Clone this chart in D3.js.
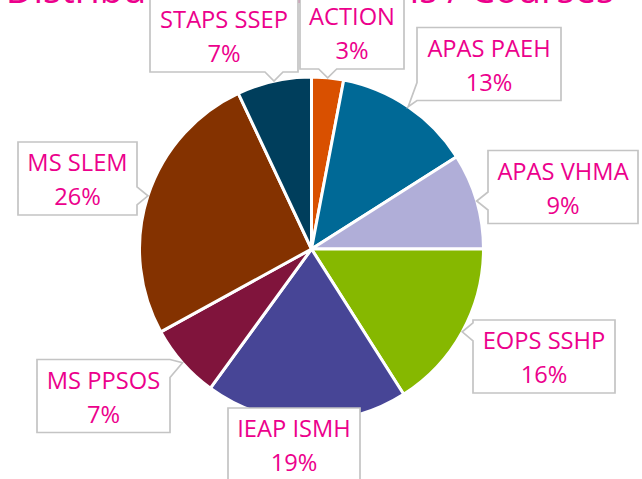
<!DOCTYPE html>
<html>
<head>
<meta charset="utf-8">
<script src="https://cdn.jsdelivr.net/npm/d3@7"></script>
<style>
  html, body { margin: 0; padding: 0; background: #fff; }
  svg { display: block; }
</style>
</head>
<body>
<svg id="chart" width="642" height="479"></svg>
<script>
// ---- data ----
const title = "Distribution of Mentions / Courses";
const categories = ["ACTION", "APAS PAEH", "APAS VHMA", "EOPS SSHP", "IEAP ISMH", "MS PPSOS", "MS SLEM", "STAPS SSEP"];
const values = [3, 13, 9, 16, 19, 7, 26, 7];
const colors = ["#D95000", "#006996", "#B0AED8", "#86B800", "#474596", "#80143C", "#843200", "#003E5C"];

// ---- layout (label box centers and widths) ----
const boxCenters = [[352, 32.5], [489, 64], [563, 187], [544, 356.5], [294, 444.5], [103.5, 396], [77.5, 178.5], [224, 35.5]];
const boxWidths = [104, 144, 150, 142, 132, 133, 119, 148];
const boxH = 73;

const svg = d3.select("#chart");
const cx = 311.5, cy = 249, r = 172;
const pink = "#EC008C";

const data = categories.map((c, i) => ({ name: c, value: values[i], color: colors[i], i }));
const total = d3.sum(values);

const pie = d3.pie().sort(null).value(d => d.value);
const arcs = pie(data);
const arc = d3.arc().innerRadius(0).outerRadius(r);
const edgeArc = d3.arc().innerRadius(r).outerRadius(r);

const g = svg.append("g").attr("transform", `translate(${cx},${cy})`);
g.selectAll("path.slice").data(arcs).join("path")
  .attr("class", "slice")
  .attr("d", arc)
  .attr("fill", d => d.data.color)
  .attr("stroke", "#fff")
  .attr("stroke-width", 3)
  .attr("stroke-linejoin", "round");

// title (partially cut off at top, as in reference)
svg.append("text")
  .attr("x", 310).attr("y", 3)
  .attr("text-anchor", "middle")
  .attr("font-family", "'Open Sans', sans-serif")
  .attr("font-size", 38)
  .attr("fill", pink)
  .text(title);

// callout boxes
function calloutPath(x0, y0, x1, y1, tx, ty) {
  const hw = 9;
  const inside = tx >= x0 && tx <= x1 && ty >= y0 && ty <= y1;
  if (inside) {
    return `M${x0},${y0}H${x1}V${y1}H${x0}Z`;
  }
  const dB = ty - y1, dT = y0 - ty, dL = x0 - tx, dR = tx - x1;
  const m = Math.max(dB, dT, dL, dR);
  const clampS = (v, lo, hi) => Math.max(lo, Math.min(hi - 2 * hw, v));
  if (m === dB) {
    const a = clampS(tx - hw, x0, x1);
    return `M${x0},${y0}H${x1}V${y1}H${a + 2 * hw}L${tx},${ty}L${a},${y1}H${x0}Z`;
  } else if (m === dT) {
    const a = clampS(tx - hw, x0, x1);
    return `M${x0},${y0}H${a}L${tx},${ty}L${a + 2 * hw},${y0}H${x1}V${y1}H${x0}Z`;
  } else if (m === dL) {
    const a = clampS(ty - hw, y0, y1);
    return `M${x0},${y0}H${x1}V${y1}H${x0}V${a + 2 * hw}L${tx},${ty}L${x0},${a}Z`;
  } else {
    const a = clampS(ty - hw, y0, y1);
    return `M${x0},${y0}H${x1}V${a}L${tx},${ty}L${x1},${a + 2 * hw}V${y1}H${x0}Z`;
  }
}

const labels = svg.append("g");
arcs.forEach((d, i) => {
  const [bx, by] = boxCenters[i];
  const w = boxWidths[i];
  const x0 = bx - w / 2, x1 = bx + w / 2, y0 = by - boxH / 2, y1 = by + boxH / 2;
  const [ex, ey] = edgeArc.centroid(d);
  const tx = cx + ex, ty = cy + ey;
  const lg = labels.append("g");
  lg.append("path")
    .attr("d", calloutPath(x0, y0, x1, y1, tx, ty))
    .attr("fill", "#fff")
    .attr("stroke", "#C4C4C4")
    .attr("stroke-width", 1.7)
    .attr("stroke-linejoin", "miter");
  const pct = Math.round(d.data.value / total * 100) + "%";
  lg.append("text")
    .attr("x", bx).attr("y", y0 + 29)
    .attr("text-anchor", "middle")
    .attr("font-family", "'Open Sans', sans-serif")
    .attr("font-size", 23.7)
    .attr("fill", pink)
    .text(d.data.name);
  lg.append("text")
    .attr("x", bx).attr("y", y0 + 63)
    .attr("text-anchor", "middle")
    .attr("font-family", "'Open Sans', sans-serif")
    .attr("font-size", 23.7)
    .attr("fill", pink)
    .text(pct);
});
</script>
</body>
</html>
